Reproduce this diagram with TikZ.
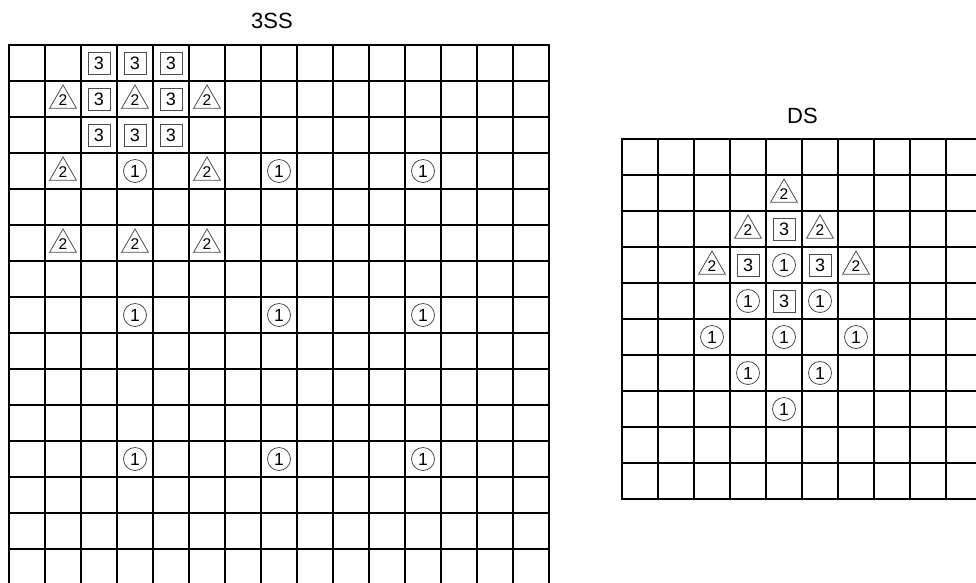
\documentclass[tikz,border=0pt]{standalone}
\usepackage{fontspec}
\setmainfont{Liberation Sans}
\usetikzlibrary{shapes.geometric}
\begin{document}
\begin{tikzpicture}[x=1pt,y=-1pt,
  gridline/.style={line width=1.3pt, black, line cap=rect},
  sym/.style={draw=black!70, line width=0.8pt, inner sep=0pt},
  sqbox/.style={sym, rectangle, minimum size=22pt, font=\fontsize{18}{18}\selectfont},
  circbox/.style={sym, circle, minimum size=23pt, font=\fontsize{17.5}{17.5}\selectfont},
  tribox/.style={sym, regular polygon, regular polygon sides=3, minimum size=31pt, font=\fontsize{15.5}{15.5}\selectfont},
  title/.style={font=\fontsize{22}{22}\selectfont}
]
\useasboundingbox (0,0) rectangle (976,582);
\clip (0,0) rectangle (976,582);
% titles
\node[title] (t1) at (272,21) {3SS};
\node[title] (t2) at (802.5,116) {DS};
% left grid 15x15
\foreach \i in {0,...,15} {
  \draw[gridline] (9+36*\i,45) -- (9+36*\i,585);
  \draw[gridline] (9,45+36*\i) -- (549,45+36*\i);
}
% right grid 10x10
\foreach \i in {0,...,10} {
  \draw[gridline] (622+36*\i,139) -- (622+36*\i,499);
  \draw[gridline] (622,139+36*\i) -- (982,139+36*\i);
}
% left symbols: squares
\foreach \c/\r in {2/0,3/0,4/0,2/1,4/1,2/2,3/2,4/2}
  \node[sqbox] (Ls-\c-\r) at (27+36*\c,63+36*\r) {3};
% left triangles
\foreach \c/\r in {1/1,3/1,5/1,1/3,5/3,1/5,3/5,5/5}
  \node[tribox] (Lt-\c-\r) at (27+36*\c,64.5+36*\r) {2};
% left circles
\foreach \c/\r in {3/3,7/3,11/3,3/7,7/7,11/7,3/11,7/11,11/11}
  \node[circbox] (Lc-\c-\r) at (27+36*\c,63+36*\r) {1};
% right squares
\foreach \c/\r in {4/2,3/3,5/3,4/4}
  \node[sqbox] (Rs-\c-\r) at (640+36*\c,157+36*\r) {3};
% right triangles
\foreach \c/\r in {4/1,3/2,5/2,2/3,6/3}
  \node[tribox] (Rt-\c-\r) at (640+36*\c,158.5+36*\r) {2};
% right circles
\foreach \c/\r in {4/3,3/4,5/4,2/5,4/5,6/5,3/6,5/6,4/7}
  \node[circbox] (Rc-\c-\r) at (640+36*\c,157+36*\r) {1};
\end{tikzpicture}
\end{document}
